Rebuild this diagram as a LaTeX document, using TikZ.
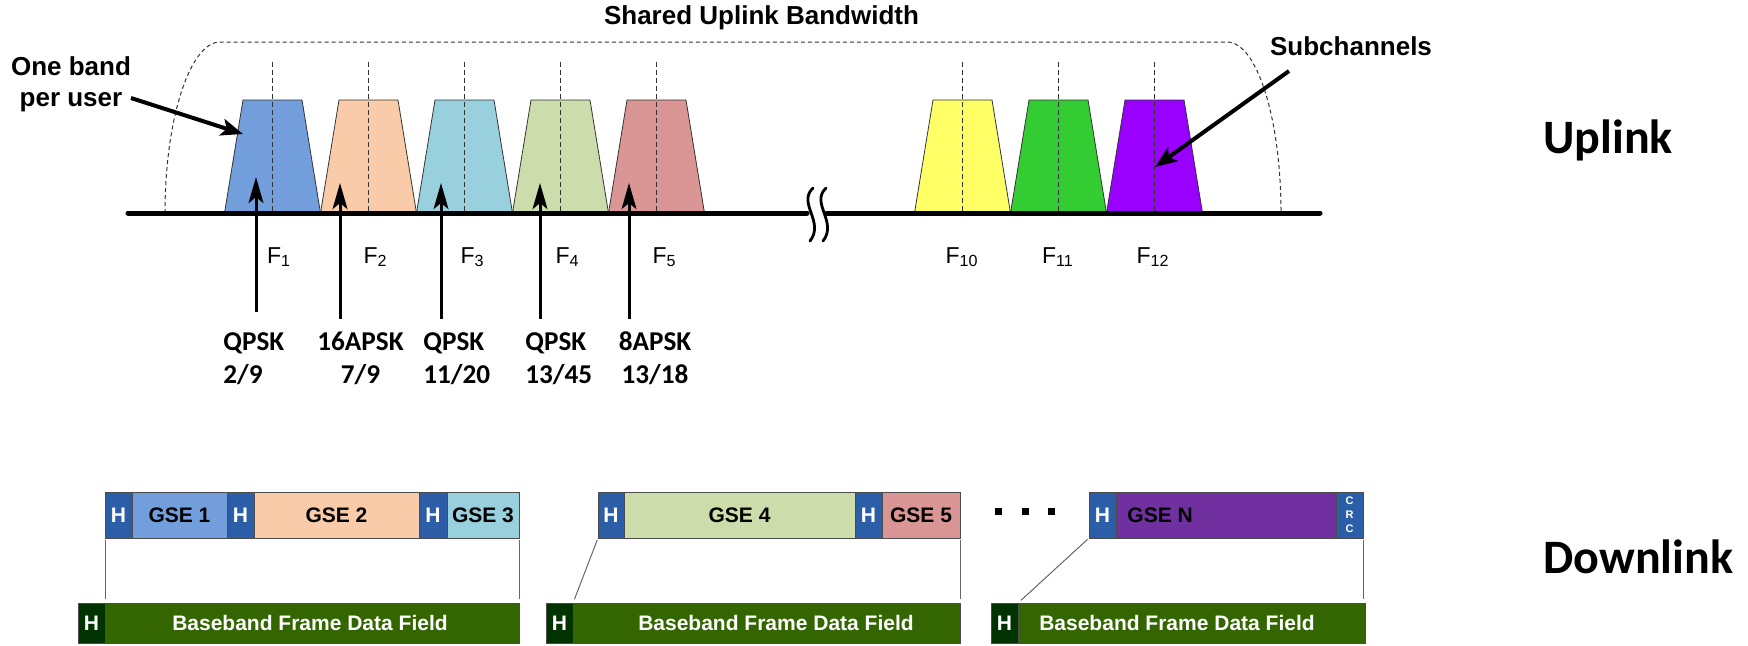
\documentclass[tikz,border=0pt]{standalone}
\usepackage{fontspec}
\setmainfont{Liberation Sans}
\newfontfamily\calibri{Carlito}
\usetikzlibrary{arrows.meta}

\definecolor{bandblue}{RGB}{114,159,219}
\definecolor{bandpeach}{RGB}{249,203,168}
\definecolor{bandaqua}{RGB}{152,208,222}
\definecolor{bandsage}{RGB}{204,220,170}
\definecolor{bandrose}{RGB}{217,150,148}
\definecolor{bandyellow}{RGB}{255,255,102}
\definecolor{bandgreen}{RGB}{51,204,51}
\definecolor{bandviolet}{RGB}{153,0,255}
\definecolor{hdrblue}{RGB}{43,94,166}
\definecolor{gseviolet}{RGB}{112,48,160}
\definecolor{bbdark}{RGB}{0,51,0}
\definecolor{bbgreen}{RGB}{51,102,0}

% one rectangular field of a frame: [options]{name}{x1}{x2}{y1}{y2}{fill}{text}
\newcommand\segment[8][]{%
  \node[seg, fill=#7, minimum width={(#4-#3)*0.5pt},
        minimum height={(#6-#5)*0.5pt}, #1] (#2) at (#3,#5) {#8};}

\begin{document}
\begin{tikzpicture}[x=0.5pt,y=-0.5pt,
  band/.style={draw=black!80, line width=0.4pt},
  centreline/.style={draw=black!80, line width=0.5pt, dash pattern=on 2.5pt off 1.5pt},
  envelope/.style={draw=black!80, line width=0.5pt, dash pattern=on 2pt off 1.5pt},
  axis/.style={line width=2.5pt, line cap=round},
  breakmark/.style={line width=1.4pt, line cap=round},
  uparrow/.style={line width=1.5pt, -{Stealth[length=13pt,width=7.4pt,inset=3pt]}},
  callout/.style={line width=2pt, -{Stealth[length=11pt,width=8.5pt,inset=2.5pt]}},
  freq/.style={font=\fontsize{11.5}{13.5}\selectfont, inner sep=0pt, anchor=base},
  modlabel/.style={font=\calibri\bfseries\fontsize{13.6}{16.5}\selectfont, inner sep=0pt},
  title/.style={font=\bfseries\fontsize{13}{15.5}\selectfont, inner sep=0pt},
  linklabel/.style={font=\calibri\bfseries\fontsize{24}{28}\selectfont, inner sep=0pt, anchor=base west},
  seg/.style={draw=black!70, line width=0.5pt, inner sep=0pt, outer sep=0pt,
              anchor=north west, font=\bfseries\fontsize{10.5}{12}\selectfont},
  hdr/.style={text=white},
  fieldtext/.style={inner sep=0pt, font=\bfseries\fontsize{10.5}{12}\selectfont},
  link/.style={draw=black!60, line width=0.5pt, shorten <=1pt, shorten >=2pt},
]
\useasboundingbox (0,0) rectangle (1748,645);

% ---------------- uplink spectrum ----------------
% dashed envelope of the shared bandwidth
\draw[envelope] (165,213) .. controls (165,119) and (190,42) .. (220,42)
  -- (1227,42) .. controls (1257,42) and (1281,119) .. (1281,213);

% subchannel bands with their centre frequencies
\foreach \c/\col in {272.5/bandblue, 368.5/bandpeach, 464.5/bandaqua,
                     560.5/bandsage, 656.5/bandrose, 962.5/bandyellow,
                     1058.5/bandgreen, 1154.5/bandviolet}{
  \filldraw[band, fill=\col] (\c-48,213) -- (\c-29.5,100) -- (\c+29.5,100) -- (\c+48,213) -- cycle;
  \draw[centreline] (\c,62) -- (\c,213);
}

% frequency axis with a break
\draw[axis] (128,213) -- (807,213);
\draw[axis] (827,213) -- (1320,213);
\draw[breakmark] (813,188) .. controls (797,203) and (825,222) .. (810,241);
\draw[breakmark] (826,188) .. controls (810,203) and (838,222) .. (823,241);

% frequency labels
\node[freq] (f1)  at (279,263)   {F\textsubscript{1}};
\node[freq] (f2)  at (375.5,263) {F\textsubscript{2}};
\node[freq] (f3)  at (472.5,263) {F\textsubscript{3}};
\node[freq] (f4)  at (567.5,263) {F\textsubscript{4}};
\node[freq] (f5)  at (664.5,263) {F\textsubscript{5}};
\node[freq] (f10) at (962,263)   {F\textsubscript{10}};
\node[freq] (f11) at (1058,263)  {F\textsubscript{11}};
\node[freq] (f12) at (1153,263)  {F\textsubscript{12}};

% modulation and coding of each user (anchored on the second line)
\node[modlabel, anchor=base west, align=left]  (m1) at (223,383)   {QPSK\\2/9};
\node[modlabel, anchor=base, align=center]     (m2) at (360.5,383) {16APSK\\7/9};
\node[modlabel, anchor=base west, align=left]  (m3) at (423,383)   {QPSK\\11/20};
\node[modlabel, anchor=base west, align=left]  (m4) at (525,383)   {QPSK\\13/45};
\node[modlabel, anchor=base, align=center]     (m5) at (655,383)   {8APSK\\13/18};

\coordinate (t1) at (256,177);  \coordinate (s1) at (256,312);
\coordinate (t2) at (340,183);  \coordinate (s2) at (340,319);
\coordinate (t3) at (441,183);  \coordinate (s3) at (441,319);
\coordinate (t4) at (540,183);  \coordinate (s4) at (540,319);
\coordinate (t5) at (629,183);  \coordinate (s5) at (629,319);
\foreach \i in {1,...,5}{ \draw[uparrow] (s\i) -- (t\i); }

% titles and callouts
\node[title, anchor=base] (bw) at (761.5,24) {Shared Uplink Bandwidth};
\node[title, anchor=base, align=center] (oneband) at (71,106) {One band\\per user};
\node[title, anchor=base] (subch) at (1351,55) {Subchannels};
\coordinate (obfrom) at (131,98);   \coordinate (obtip) at (243,134);
\coordinate (scfrom) at (1289,71);  \coordinate (sctip) at (1155,167);
\draw[callout] (obfrom) -- (obtip);
\draw[callout] (scfrom) -- (sctip);

\node[linklabel] (up)   at (1543,153) {Uplink};
\node[linklabel] (down) at (1543,573) {Downlink};

% ---------------- downlink frames ----------------
% GSE packets
\segment[hdr]{hA}{105}{132}{492}{538}{hdrblue}{H}
\segment{gA}{132}{227}{492}{538}{bandblue}{GSE 1}
\segment[hdr]{hB}{227}{254}{492}{538}{hdrblue}{H}
\segment{gB}{254}{419}{492}{538}{bandpeach}{GSE 2}
\segment[hdr]{hC}{419}{447}{492}{538}{hdrblue}{H}
\segment{gC}{447}{519}{492}{538}{bandaqua}{GSE 3}

\segment[hdr]{hD}{598}{624}{492}{538}{hdrblue}{H}
\segment{gD}{624}{855}{492}{538}{bandsage}{GSE 4}
\segment[hdr]{hE}{855}{882}{492}{538}{hdrblue}{H}
\segment{gE}{882}{960}{492}{538}{bandrose}{GSE 5}

\segment[hdr]{hF}{1089}{1116}{492}{538}{hdrblue}{H}
\segment{gF}{1116}{1336}{492}{538}{gseviolet}{}
\node[fieldtext, anchor=west] (gFtext) at (1127,515) {GSE N};
\segment[hdr, align=center, font=\bfseries\fontsize{5.5}{7}\selectfont]{crc}{1336}{1363}{492}{538}{hdrblue}{C\\R\\C}

% continuation dots
\fill (995,508) rectangle (1002,515);
\fill (1022,508) rectangle (1029,515);
\fill (1048,508) rectangle (1055,515);

% baseband frames
\segment[hdr]{bhA}{78}{105}{603}{643}{bbdark}{H}
\segment{bbA}{105}{519}{603}{643}{bbgreen}{}
\segment[hdr]{bhB}{546}{573}{603}{643}{bbdark}{H}
\segment{bbB}{573}{960}{603}{643}{bbgreen}{}
\segment[hdr]{bhC}{991}{1018}{603}{643}{bbdark}{H}
\segment{bbC}{1018}{1365}{603}{643}{bbgreen}{}
\node[fieldtext, text=white] (bbtA) at (310,623)  {Baseband Frame Data Field};
\node[fieldtext, text=white] (bbtB) at (776,623)  {Baseband Frame Data Field};
\node[fieldtext, text=white] (bbtC) at (1177,623) {Baseband Frame Data Field};

% mapping of packets into the data fields
\draw[link] (hA.south west) -- (bbA.north west);
\draw[link] (gC.south east) -- (bbA.north east);
\draw[link] (hD.south west) -- (bbB.north west);
\draw[link] (gE.south east) -- (bbB.north east);
\draw[link] (hF.south west) -- (bbC.north west);
\draw[link] (crc.south east) -- (crc.south east |- bbC.north);
\end{tikzpicture}
\end{document}
